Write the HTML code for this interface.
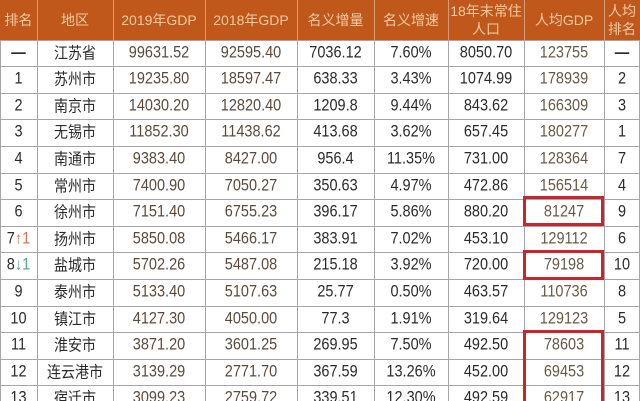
<!DOCTYPE html>
<html><head><meta charset="utf-8"><style>
*{margin:0;padding:0;box-sizing:border-box}
html,body{width:640px;height:401px;overflow:hidden;background:#fff}
body{position:relative;font-family:"Liberation Sans","Noto Sans CJK SC",sans-serif}
#wrap{position:absolute;left:0;top:0;width:640px;height:401px;overflow:hidden}
.hd{position:absolute;left:0;top:0;width:640px;height:40px;background:#c0571b}
.vl{position:absolute;top:40px;height:361px;width:1px;background:#a9a3ab}
.hvl{position:absolute;top:0;height:40px;width:1px;background:#d99a78}
.hl{position:absolute;left:0;width:640px;height:1px;background:#a9a3ab}
.r{position:absolute;left:0;width:640px;height:26.6px}
.c{position:absolute;top:0;height:26.6px;display:flex;align-items:center;justify-content:center;font-size:14.5px;color:#2a2a2a;white-space:nowrap;line-height:1;transform:scaleY(1.12)}
.h{position:absolute;top:0;height:40px;display:flex;align-items:center;justify-content:center;color:#f6cba2;font-size:14px;text-align:center;line-height:18px;white-space:nowrap}
.b{color:#5b4a3c}
.p{color:#6a5846}
.cj{font-size:14px}
.box{position:absolute;border:3px solid #c8262c}
.up{color:#e0704f}
.dn{color:#4fa88a}
.c0{left:0;width:37px}.c1{left:37px;width:76px}.c2{left:113px;width:92px}.c3{left:205px;width:92px}
.c4{left:297px;width:77px}.c5{left:374px;width:74px}.c6{left:448px;width:76px}.c7{left:524px;width:80px}.c8{left:604px;width:36px}
</style></head><body><div id="wrap">
<div class="hd"></div>
<div class="hvl" style="left:37px"></div>
<div class="hvl" style="left:113px"></div>
<div class="hvl" style="left:205px"></div>
<div class="hvl" style="left:297px"></div>
<div class="hvl" style="left:374px"></div>
<div class="hvl" style="left:448px"></div>
<div class="hvl" style="left:524px"></div>
<div class="hvl" style="left:604px"></div>
<div class="vl" style="left:0"></div>
<div class="vl" style="left:37px"></div>
<div class="vl" style="left:113px"></div>
<div class="vl" style="left:205px"></div>
<div class="vl" style="left:297px"></div>
<div class="vl" style="left:374px"></div>
<div class="vl" style="left:448px"></div>
<div class="vl" style="left:524px"></div>
<div class="vl" style="left:604px"></div>
<div class="vl" style="left:639px"></div>
<div class="hl" style="top:39.5px"></div>
<div class="hl" style="top:66.1px"></div>
<div class="hl" style="top:92.7px"></div>
<div class="hl" style="top:119.3px"></div>
<div class="hl" style="top:145.9px"></div>
<div class="hl" style="top:172.5px"></div>
<div class="hl" style="top:199.1px"></div>
<div class="hl" style="top:225.7px"></div>
<div class="hl" style="top:252.3px"></div>
<div class="hl" style="top:278.9px"></div>
<div class="hl" style="top:305.5px"></div>
<div class="hl" style="top:332.1px"></div>
<div class="hl" style="top:358.7px"></div>
<div class="hl" style="top:385.3px"></div>

<div class="h c0">排名</div>
<div class="h c1">地区</div>
<div class="h c2">2019年GDP</div>
<div class="h c3">2018年GDP</div>
<div class="h c4">名义增量</div>
<div class="h c5">名义增速</div>
<div class="h c6">18年末常住<br>人口</div>
<div class="h c7">人均GDP</div>
<div class="h c8">人均<br>排名</div>

<div class="r" style="top:39.5px">
<div class="c c0" style="font-weight:bold">—</div><div class="c c1 cj">江苏省</div><div class="c c2 b">99631.52</div><div class="c c3 b">92595.40</div><div class="c c4">7036.12</div><div class="c c5">7.60%</div><div class="c c6">8050.70</div><div class="c c7 p">123755</div><div class="c c8" style="font-weight:bold">—</div>
</div>
<div class="r" style="top:66.1px">
<div class="c c0">1</div><div class="c c1 cj">苏州市</div><div class="c c2 b">19235.80</div><div class="c c3 b">18597.47</div><div class="c c4">638.33</div><div class="c c5">3.43%</div><div class="c c6">1074.99</div><div class="c c7 p">178939</div><div class="c c8">2</div>
</div>
<div class="r" style="top:92.7px">
<div class="c c0">2</div><div class="c c1 cj">南京市</div><div class="c c2 b">14030.20</div><div class="c c3 b">12820.40</div><div class="c c4">1209.8</div><div class="c c5">9.44%</div><div class="c c6">843.62</div><div class="c c7 p">166309</div><div class="c c8">3</div>
</div>
<div class="r" style="top:119.3px">
<div class="c c0">3</div><div class="c c1 cj">无锡市</div><div class="c c2 b">11852.30</div><div class="c c3 b">11438.62</div><div class="c c4">413.68</div><div class="c c5">3.62%</div><div class="c c6">657.45</div><div class="c c7 p">180277</div><div class="c c8">1</div>
</div>
<div class="r" style="top:145.9px">
<div class="c c0">4</div><div class="c c1 cj">南通市</div><div class="c c2 b">9383.40</div><div class="c c3 b">8427.00</div><div class="c c4">956.4</div><div class="c c5">11.35%</div><div class="c c6">731.00</div><div class="c c7 p">128364</div><div class="c c8">7</div>
</div>
<div class="r" style="top:172.5px">
<div class="c c0">5</div><div class="c c1 cj">常州市</div><div class="c c2 b">7400.90</div><div class="c c3 b">7050.27</div><div class="c c4">350.63</div><div class="c c5">4.97%</div><div class="c c6">472.86</div><div class="c c7 p">156514</div><div class="c c8">4</div>
</div>
<div class="r" style="top:199.1px">
<div class="c c0">6</div><div class="c c1 cj">徐州市</div><div class="c c2 b">7151.40</div><div class="c c3 b">6755.23</div><div class="c c4">396.17</div><div class="c c5">5.86%</div><div class="c c6">880.20</div><div class="c c7 p">81247</div><div class="c c8">9</div>
</div>
<div class="r" style="top:225.7px">
<div class="c c0">7<span class="up">↑1</span></div><div class="c c1 cj">扬州市</div><div class="c c2 b">5850.08</div><div class="c c3 b">5466.17</div><div class="c c4">383.91</div><div class="c c5">7.02%</div><div class="c c6">453.10</div><div class="c c7 p">129112</div><div class="c c8">6</div>
</div>
<div class="r" style="top:252.3px">
<div class="c c0">8<span class="dn">↓1</span></div><div class="c c1 cj">盐城市</div><div class="c c2 b">5702.26</div><div class="c c3 b">5487.08</div><div class="c c4">215.18</div><div class="c c5">3.92%</div><div class="c c6">720.00</div><div class="c c7 p">79198</div><div class="c c8">10</div>
</div>
<div class="r" style="top:278.9px">
<div class="c c0">9</div><div class="c c1 cj">泰州市</div><div class="c c2 b">5133.40</div><div class="c c3 b">5107.63</div><div class="c c4">25.77</div><div class="c c5">0.50%</div><div class="c c6">463.57</div><div class="c c7 p">110736</div><div class="c c8">8</div>
</div>
<div class="r" style="top:305.5px">
<div class="c c0">10</div><div class="c c1 cj">镇江市</div><div class="c c2 b">4127.30</div><div class="c c3 b">4050.00</div><div class="c c4">77.3</div><div class="c c5">1.91%</div><div class="c c6">319.64</div><div class="c c7 p">129123</div><div class="c c8">5</div>
</div>
<div class="r" style="top:332.1px">
<div class="c c0">11</div><div class="c c1 cj">淮安市</div><div class="c c2 b">3871.20</div><div class="c c3 b">3601.25</div><div class="c c4">269.95</div><div class="c c5">7.50%</div><div class="c c6">492.50</div><div class="c c7 p">78603</div><div class="c c8">11</div>
</div>
<div class="r" style="top:358.7px">
<div class="c c0">12</div><div class="c c1 cj">连云港市</div><div class="c c2 b">3139.29</div><div class="c c3 b">2771.70</div><div class="c c4">367.59</div><div class="c c5">13.26%</div><div class="c c6">452.00</div><div class="c c7 p">69453</div><div class="c c8">12</div>
</div>
<div class="r" style="top:385.3px;height:15.7px;overflow:hidden">
<div class="c c0">13</div><div class="c c1 cj">宿迁市</div><div class="c c2 b">3099.23</div><div class="c c3 b">2759.72</div><div class="c c4">339.51</div><div class="c c5">12.30%</div><div class="c c6">492.59</div><div class="c c7 p">62917</div><div class="c c8">13</div>
</div>

<div class="box" style="left:523px;top:196px;width:81px;height:30px"></div>
<div class="box" style="left:523px;top:250px;width:81px;height:30px"></div>
<div class="box" style="left:523px;top:330px;width:81px;height:71px;border-bottom:none"></div>
</div></body></html>
